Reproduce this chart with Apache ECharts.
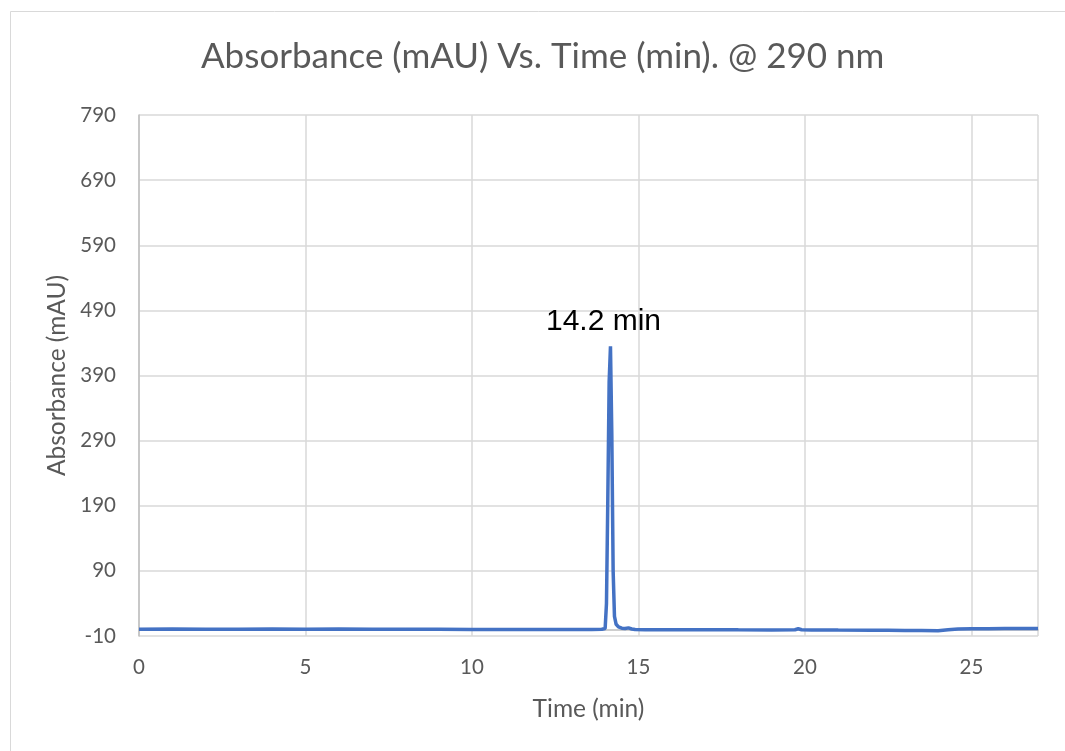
<!DOCTYPE html>
<html>
<head>
<meta charset="utf-8">
<script src="https://cdn.jsdelivr.net/npm/echarts@6/dist/echarts.min.js"></script>
<style>
  html, body { margin: 0; padding: 0; background: #ffffff; }
  #chart { width: 1065px; height: 751px; }
</style>
</head>
<body>
<div id="chart"></div>
<script>
// Chromatogram at 290 nm: retention time (min) and absorbance (mAU)
const timeMin = [
  0, 1, 2, 3, 4, 5, 6, 7, 8, 9, 10, 11, 12, 13, 13.6, 13.9, 14.0, 14.04,
  14.08, 14.12, 14.16, 14.2, 14.24, 14.28, 14.33, 14.4, 14.5, 14.6, 14.7, 14.8,
  14.9, 15.2, 16, 17, 18, 19, 19.7, 19.8, 19.9, 20.2, 21, 22, 22.5, 23,
  23.5, 24.0, 24.3, 24.6, 25, 25.5, 26, 26.5, 27
];
const absorbanceMAU = [
  0.5, 0.6, 0.4, 0.5, 0.6, 0.5, 0.7, 0.4, 0.3, 0.2, 0.1, 0.1, 0.0, 0.0, 0.1, 0.3, 1.5, 40,
  200, 380, 435, 300, 90, 20, 8, 4, 2, 1.5, 2.5, 0.8,
  0.0, -0.3, -0.4, -0.3, -0.5, -0.6, -0.4, 1.2, -0.4, -0.6, -0.8, -1.0, -1.2, -1.4,
  -1.6, -1.8, -0.5, 0.8, 1.2, 1.3, 1.4, 1.5, 1.5
];
const peakTime = 14.16;
const peakValue = 435;

const xTicks = [0, 5, 10, 15, 20, 25];
const yTicks = [-10, 90, 190, 290, 390, 490, 590, 690, 790];

const points = timeMin.map((t, i) => [t, absorbanceMAU[i]]);

const chart = echarts.init(document.getElementById('chart'), null, { renderer: 'canvas' });
const grey = '#595959';
const gridColor = '#d9d9d9';

chart.setOption({
  animation: false,
  backgroundColor: '#ffffff',
  title: {
    text: 'Absorbance (mAU) Vs. Time (min). @ 290 nm',
    left: 196,
    top: 34,
    textStyle: { fontFamily: 'Lato', fontSize: 35, fontWeight: 'normal', color: grey }
  },
  graphic: [{
    type: 'rect',
    shape: { x: 10.5, y: 11.5, width: 1070, height: 760 },
    style: { fill: null, stroke: '#d9d9d9', lineWidth: 1 },
    silent: true
  }],
  grid: { left: 139, right: 27, top: 115, bottom: 115, containLabel: false },
  xAxis: {
    type: 'value',
    min: 0, max: 27, interval: 5,
    name: 'Time (min)',
    nameLocation: 'middle',
    nameGap: 61,
    nameTextStyle: { fontFamily: 'Lato', fontSize: 24.5, color: grey },
    axisLine: { show: true, lineStyle: { color: '#bfbfbf', width: 1.5 } },
    axisTick: { show: false },
    axisLabel: {
      fontFamily: 'Lato', fontSize: 20.5, color: grey, margin: 21,
      customValues: xTicks,
      formatter: v => String(v)
    },
    splitLine: { show: true, lineStyle: { color: gridColor, width: 1.5 } }
  },
  yAxis: {
    type: 'value',
    min: -10, max: 790,
    name: 'Absorbance (mAU)',
    nameLocation: 'middle',
    nameGap: 65,
    nameRotate: 90,
    nameTextStyle: { fontFamily: 'Lato', fontSize: 24.5, color: grey },
    axisLine: { show: true, lineStyle: { color: '#bfbfbf', width: 1.5 } },
    axisTick: { show: false, customValues: yTicks },
    axisLabel: {
      fontFamily: 'Lato', fontSize: 20.5, color: grey, margin: 23,
      customValues: yTicks,
      formatter: v => String(v)
    },
    splitLine: { show: true, lineStyle: { color: gridColor, width: 1.5 } }
  },
  series: [{
    type: 'line',
    data: points,
    showSymbol: false,
    smooth: false,
    lineStyle: { color: '#4472c4', width: 3.5 },
    markPoint: {
      symbol: 'circle',
      symbolSize: 0,
      data: [{ coord: [peakTime, peakValue] }],
      label: {
        show: true,
        position: 'top',
        offset: [-7, -4],
        formatter: () => peakTime.toFixed(1) + ' min',
        fontFamily: 'Liberation Sans',
        fontSize: 30,
        color: '#000000'
      }
    }
  }]
});
</script>
</body>
</html>
